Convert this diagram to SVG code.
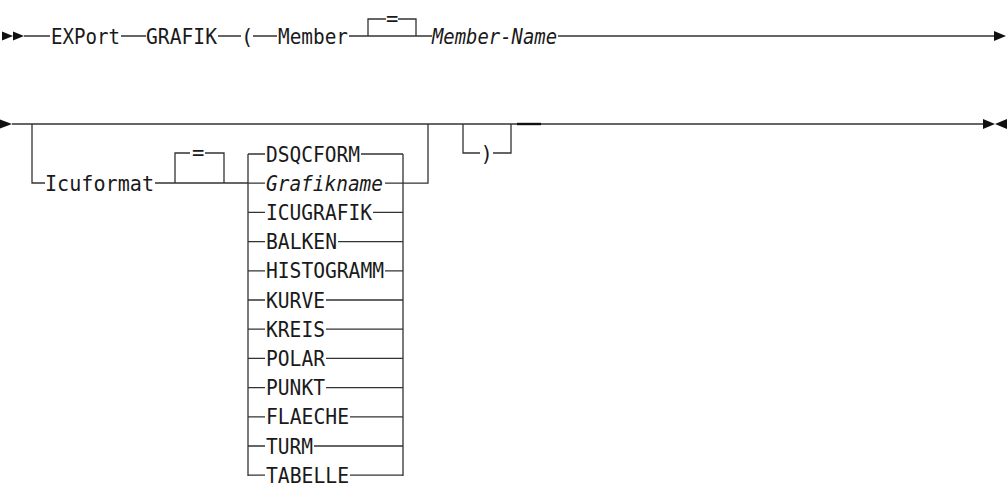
<svg xmlns="http://www.w3.org/2000/svg" width="1008" height="487" viewBox="0 0 1008 487">
<style>
.t{font-family:"DejaVu Sans Mono","Liberation Mono",monospace;font-size:20.5px;fill:#1a1a1a}
.i{font-style:italic}
.l{stroke:#333;stroke-width:1.3;fill:none}
.a{fill:#111;stroke:none}
</style>
<rect width="1008" height="487" fill="#fff"/>
<g id="connectors">
<path class="l" d="M24 36H50M121 36H146M218 36H241M253 36H277M349 36H432M558 36H994"/>
<path class="l" d="M368 36V19H386M398 19H416V36"/>
<path class="l" d="M12 124H983"/>
<path d="M517 124H541" stroke="#111" stroke-width="2.4"/>
<path class="l" d="M32 124V183H45M155 183H248"/>
<path class="l" d="M175 183V153H190M205 153H224V183"/>
<path class="l" d="M248 154V476M403 154V476"/>
<path class="l" d="M248 154H265M361 154H403"/>
<path class="l" d="M248 183.2H265M385 183.2H428V124"/>
<path class="l" d="M248 212.4H265M373 212.4H403"/>
<path class="l" d="M248 241.6H265M338 241.6H403"/>
<path class="l" d="M248 270.8H265M385 270.8H403"/>
<path class="l" d="M248 300H265M326 300H403"/>
<path class="l" d="M248 329.2H265M326 329.2H403"/>
<path class="l" d="M248 358.4H265M326 358.4H403"/>
<path class="l" d="M248 387.6H265M326 387.6H403"/>
<path class="l" d="M248 416.8H265M350 416.8H403"/>
<path class="l" d="M248 446H265M314 446H403"/>
<path class="l" d="M248 475.2H265M350 475.2H403"/>
<path class="l" d="M463 124V153H480M493 153H511V124"/>
<path class="a" d="M2 31.5L13 36L2 40.5ZM13 31.5L24 36L13 40.5Z"/>
<path class="a" d="M994 31L1006 36L994 41Z"/>
<path class="a" d="M0 119.5L12 124L0 128.5Z"/>
<path class="a" d="M983 119L995 124L983 129ZM1007 119L995 124L1007 129Z"/>
</g>
<g id="n-export"><text class="t" x="51" y="43.5" textLength="69" lengthAdjust="spacingAndGlyphs">EXPort</text></g>
<g id="n-grafik"><text class="t" x="146" y="43.5" textLength="71" lengthAdjust="spacingAndGlyphs">GRAFIK</text></g>
<g id="n-lparen"><text class="t" x="241" y="43.5">(</text></g>
<g id="n-member"><text class="t" x="278" y="43.5" textLength="70" lengthAdjust="spacingAndGlyphs">Member</text></g>
<g id="n-eq1"><text class="t" x="386" y="26">=</text></g>
<g id="n-membername"><text class="t i" x="432" y="43.5" textLength="125" lengthAdjust="spacingAndGlyphs">Member-Name</text></g>
<g id="n-icuformat"><text class="t" x="45" y="190.5" textLength="109" lengthAdjust="spacingAndGlyphs">Icuformat</text></g>
<g id="n-eq2"><text class="t" x="192" y="160">=</text></g>
<g id="n-dsqcform"><text class="t" x="266" y="161.5" textLength="94" lengthAdjust="spacingAndGlyphs">DSQCFORM</text></g>
<g id="n-grafikname"><text class="t i" x="266" y="190.7" textLength="117" lengthAdjust="spacingAndGlyphs">Grafikname</text></g>
<g id="n-icugrafik"><text class="t" x="266" y="219.9" textLength="106" lengthAdjust="spacingAndGlyphs">ICUGRAFIK</text></g>
<g id="n-balken"><text class="t" x="266" y="249.1" textLength="71" lengthAdjust="spacingAndGlyphs">BALKEN</text></g>
<g id="n-histogramm"><text class="t" x="266" y="278.3" textLength="118" lengthAdjust="spacingAndGlyphs">HISTOGRAMM</text></g>
<g id="n-kurve"><text class="t" x="266" y="307.5" textLength="59" lengthAdjust="spacingAndGlyphs">KURVE</text></g>
<g id="n-kreis"><text class="t" x="266" y="336.7" textLength="59" lengthAdjust="spacingAndGlyphs">KREIS</text></g>
<g id="n-polar"><text class="t" x="266" y="365.9" textLength="59" lengthAdjust="spacingAndGlyphs">POLAR</text></g>
<g id="n-punkt"><text class="t" x="266" y="395.1" textLength="59" lengthAdjust="spacingAndGlyphs">PUNKT</text></g>
<g id="n-flaeche"><text class="t" x="266" y="424.3" textLength="83" lengthAdjust="spacingAndGlyphs">FLAECHE</text></g>
<g id="n-turm"><text class="t" x="266" y="453.5" textLength="47" lengthAdjust="spacingAndGlyphs">TURM</text></g>
<g id="n-tabelle"><text class="t" x="266" y="482.7" textLength="83" lengthAdjust="spacingAndGlyphs">TABELLE</text></g>
<g id="n-rparen"><text class="t" x="480.5" y="160.5">)</text></g>
</svg>
